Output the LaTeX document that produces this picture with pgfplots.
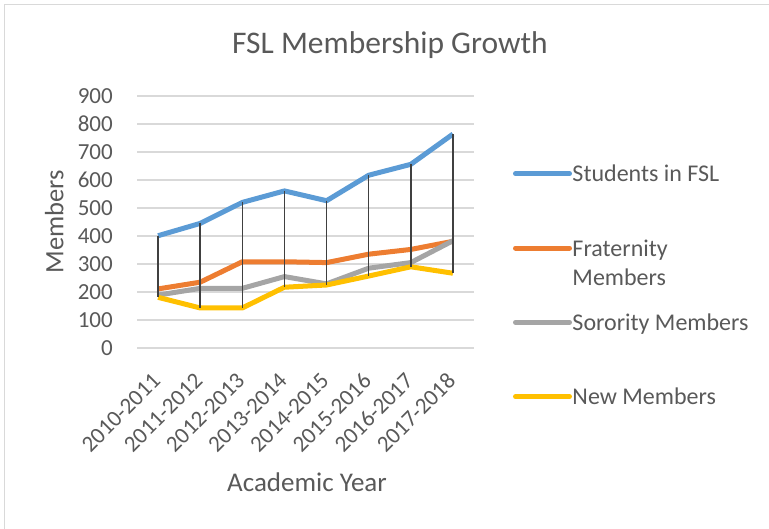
\documentclass[border=0pt]{standalone}
\usepackage{pgfplots}
\pgfplotsset{compat=1.18}
\usepackage{fontspec}
\setmainfont{Carlito}
\definecolor{txt}{HTML}{595959}
\definecolor{gridc}{HTML}{D9D9D9}
\definecolor{c1}{HTML}{5B9BD5}
\definecolor{c2}{HTML}{ED7D31}
\definecolor{c3}{HTML}{A5A5A5}
\definecolor{c4}{HTML}{FFC000}
\definecolor{hl}{HTML}{404040}
\begin{document}
\begin{tikzpicture}[x=1bp,y=1bp]
\useasboundingbox (0,0) rectangle (769,529);
\draw[gridc, line width=1.5bp] (4.5,0) -- (4.5,524.5) -- (769,524.5);
\begin{axis}[
  at={(137bp,181bp)}, anchor=south west,
  scale only axis, width=337bp, height=252bp,
  xmin=-0.5, xmax=7.5, ymin=0, ymax=900,
  ytick={0,100,...,900}, xtick={0,...,7},
  xticklabels={2010-2011,2011-2012,2012-2013,2013-2014,2014-2015,2015-2016,2016-2017,2017-2018},
  ymajorgrids, major grid style={gridc, line width=1.2bp},
  axis line style={draw=none}, major tick length=0pt,
  tick label style={font=\fontsize{23bp}{27bp}\selectfont, text=txt},
  /pgf/number format/assume math mode=true,
  yticklabel style={inner sep=0pt, anchor=east, xshift=-24bp},
  xticklabel style={inner sep=0pt, anchor=east, xshift=-1.5bp, yshift=-29bp, rotate=45},
  clip=false,
  legend cell align=left,
  legend style={at={(1.1157,0.7472)}, anchor=north west, draw=none, fill=none,
    inner sep=0pt, outer sep=0pt, row sep=0pt, column sep=0.5bp,
    font=\fontsize{24bp}{29.5bp}\selectfont, text=txt,
    nodes={text height=22bp, text depth=52.3bp, inner sep=0pt, anchor=base west}},
  legend image code/.code={\draw[#1, line cap=round] (-2bp,8bp) -- (52bp,8bp);},
]
\addplot[c1, line width=5bp, line join=round] coordinates {(0,401) (1,445) (2,520) (3,561) (4,526) (5,617) (6,656) (7,764)};
\addlegendentry{Students in FSL}
\addplot[c2, line width=5bp, line join=round] coordinates {(0,211) (1,235) (2,308) (3,308) (4,305) (5,335) (6,352) (7,381)};
\addlegendentry{\begin{tabular}[t]{@{}l@{}}Fraternity\\Members\end{tabular}}
\addplot[c3, line width=5bp, line join=round] coordinates {(0,189) (1,213) (2,213) (3,255) (4,229) (5,285) (6,305) (7,383)};
\addlegendentry{Sorority Members}
\addplot[c4, line width=5bp, line join=round] coordinates {(0,181) (1,143) (2,143) (3,217) (4,225) (5,257) (6,290) (7,267)};
\addlegendentry{New Members}
\addplot[hl, line width=1.5bp, forget plot, unbounded coords=jump] coordinates {
 (0,401) (0,181) (0,nan)
 (1,445) (1,143) (1,nan)
 (2,520) (2,143) (2,nan)
 (3,561) (3,217) (3,nan)
 (4,526) (4,225) (4,nan)
 (5,617) (5,257) (5,nan)
 (6,656) (6,290) (6,nan)
 (7,764) (7,267)};
\end{axis}
\node[anchor=base, text=txt, font=\fontsize{31.5bp}{38bp}\selectfont] at (390,475.7) {FSL Membership Growth};
\node[anchor=base, rotate=90, text=txt, font=\fontsize{26.5bp}{31bp}\selectfont] at (63.3,307) {Members};
\node[anchor=base, text=txt, font=\fontsize{27bp}{32bp}\selectfont] at (307,37.3) {Academic Year};
\end{tikzpicture}
\end{document}
